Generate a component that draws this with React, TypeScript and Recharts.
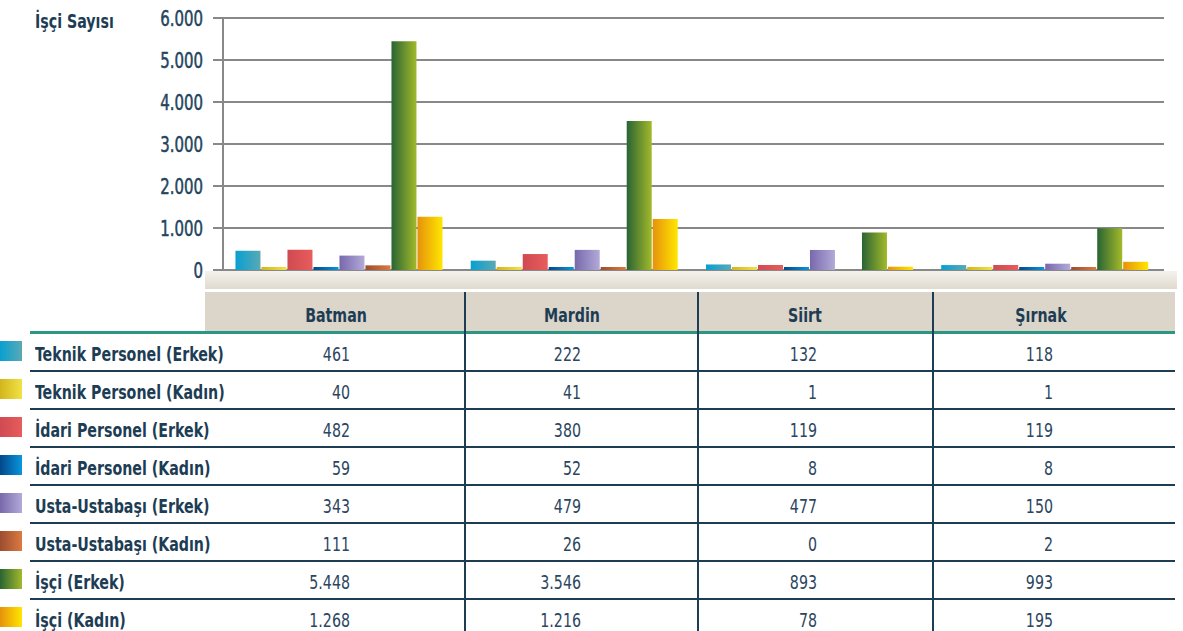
import React from 'react';
import { BarChart, Bar, XAxis, YAxis, CartesianGrid } from 'recharts';

const categories = ['Batman', 'Mardin', 'Siirt', 'Şırnak'];
const seriesNames = [
  'Teknik Personel (Erkek)',
  'Teknik Personel (Kadın)',
  'İdari Personel (Erkek)',
  'İdari Personel (Kadın)',
  'Usta-Ustabaşı (Erkek)',
  'Usta-Ustabaşı (Kadın)',
  'İşçi (Erkek)',
  'İşçi (Kadın)',
];
const teknikErkek = [461, 222, 132, 118];
const teknikKadin = [40, 41, 1, 1];
const idariErkek = [482, 380, 119, 119];
const idariKadin = [59, 52, 8, 8];
const ustaErkek = [343, 479, 477, 150];
const ustaKadin = [111, 26, 0, 2];
const isciErkek = [5448, 3546, 893, 993];
const isciKadin = [1268, 1216, 78, 195];
const yTicks = [0, 1000, 2000, 3000, 4000, 5000, 6000];

const seriesValues = [teknikErkek, teknikKadin, idariErkek, idariKadin, ustaErkek, ustaKadin, isciErkek, isciKadin];
const gradients: [string, string][] = [
  ['#089fd2', '#5aa9b4'],
  ['#d2b51c', '#f0e246'],
  ['#cf4a52', '#e85c5c'],
  ['#03488a', '#0a96dc'],
  ['#7868ac', '#b2aad8'],
  ['#9c4c30', '#dc7a40'],
  ['#2a6434', '#a2b92a'],
  ['#e6920c', '#ffe600'],
];

const data = categories.map((c, i) => {
  const row: Record<string, string | number> = { name: c };
  seriesValues.forEach((vals, s) => { row['s' + s] = vals[i]; });
  return row;
});

const fmt = (v: number) => v.toLocaleString('de-DE');
const FONT = '"DejaVu Sans Condensed", "Liberation Sans Narrow", Roboto, sans-serif';
const NAVY = '#1d3d55';
const SX = 0.79;

const colRight = [350, 581, 817, 1053];
const headCenter = [336, 572, 805, 1041];
const colLines = [465, 698, 933];

// narrow text: the original uses a condensed face, so squeeze horizontally
const Txt = ({ x, y, align = 'left', bold = false, color = NAVY, size = 20, children }: any) => {
  const w = 400;
  const left = align === 'left' ? x : align === 'right' ? x - w : x - w / 2;
  return (
    <div style={{
      position: 'absolute', left, top: y, width: w, textAlign: align, fontSize: size,
      fontWeight: bold ? 'bold' : 'normal', color, whiteSpace: 'nowrap', lineHeight: 'normal',
      transform: `scaleX(${SX})`, transformOrigin: align === 'left' ? 'left' : align === 'right' ? 'right' : 'center',
    }}>{children}</div>
  );
};

const YTick = ({ x, y, payload }: any) => (
  <text transform={`translate(${x},${y}) scale(${SX},1)`} x={0} y={0} dy="0.36em" textAnchor="end"
    fill="#234560" stroke="#234560" strokeWidth={0.5} fontSize={21} fontFamily={FONT}>{fmt(payload.value)}</text>
);

export default function App() {
  return (
    <div style={{ position: 'absolute', left: 0, top: 0, width: 1183, height: 631, background: '#fff', fontFamily: FONT, overflow: 'hidden' }}>
      <Txt x={35} y={9} bold>İşçi Sayısı</Txt>
      <div style={{ position: 'absolute', left: 0, top: 0 }}>
        <BarChart width={1183} height={290} data={data} margin={{ top: 18, right: 19, left: 163, bottom: 20 }} barCategoryGap="5.3%" barGap={1}>
          <defs>
            {gradients.map((g, i) => (
              <linearGradient key={i} id={'g' + i} x1="0" y1="0" x2="1" y2="0">
                <stop offset="0%" stopColor={g[0]} />
                <stop offset="100%" stopColor={g[1]} />
              </linearGradient>
            ))}
          </defs>
          <CartesianGrid vertical={false} stroke="#888" strokeWidth={2} />
          <XAxis dataKey="name" hide />
          <YAxis
            width={60}
            domain={[0, 6000]}
            ticks={yTicks}
            axisLine={{ stroke: '#888', strokeWidth: 2 }}
            tickLine={{ stroke: '#888', strokeWidth: 2 }}
            tickSize={10}
            tickMargin={10}
            tick={<YTick />}
          />
          {seriesNames.map((n, i) => (
            <Bar key={n} dataKey={'s' + i} name={n} fill={`url(#g${i})`} isAnimationActive={false}
              minPointSize={(v: number) => (v === 0 ? 0 : 3)} />
          ))}
        </BarChart>
      </div>
      {/* beige band under the plot */}
      <div style={{ position: 'absolute', left: 205, top: 271, width: 972, height: 18, background: 'linear-gradient(#f4f2ed, #e0dacf)' }} />
      {/* header */}
      <div style={{ position: 'absolute', left: 205, top: 292, width: 970, height: 40, background: '#dcd5ca' }} />
      {categories.map((c, i) => (
        <Txt key={c} x={headCenter[i]} y={303} align="center" bold>{c}</Txt>
      ))}
      <div style={{ position: 'absolute', left: 30, top: 331, width: 1145, height: 3, background: '#2b9683' }} />
      {colLines.map((x) => (
        <div key={x} style={{ position: 'absolute', left: x - 1, top: 292, width: 2, height: 340, background: NAVY }} />
      ))}
      {seriesNames.map((n, r) => {
        const top = 332 + r * 38;
        return (
          <React.Fragment key={n}>
            <div style={{ position: 'absolute', left: 0, top: top + 9, width: 22, height: 20, background: `linear-gradient(to right, ${gradients[r][0]}, ${gradients[r][1]})` }} />
            <Txt x={35} y={top + 10} bold>{n}</Txt>
            {seriesValues[r].map((v, c) => (
              <Txt key={c} x={colRight[c]} y={top + 10} align="right" color="#2c4660">{fmt(v)}</Txt>
            ))}
            {r < seriesNames.length - 1 && (
              <div style={{ position: 'absolute', left: 30, top: top + 38, width: 1145, height: 2, background: NAVY }} />
            )}
          </React.Fragment>
        );
      })}
    </div>
  );
}
